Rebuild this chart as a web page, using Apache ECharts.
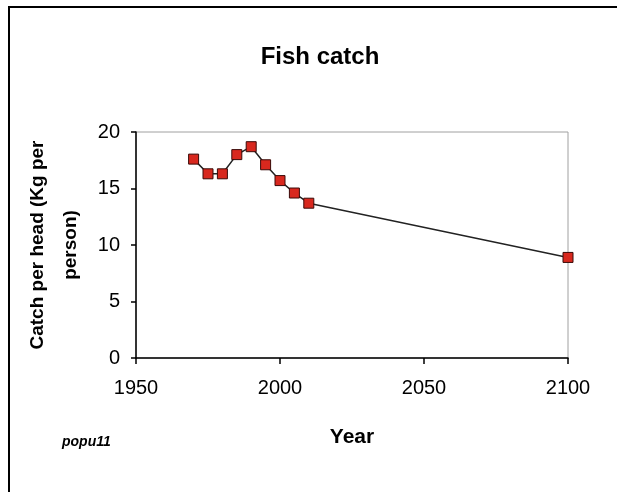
<!DOCTYPE html>
<html>
<head>
<meta charset="utf-8">
<script src="https://cdn.jsdelivr.net/npm/echarts@6/dist/echarts.min.js"></script>
<style>
html,body{margin:0;padding:0;background:#fff;}
#chart{width:617px;height:492px;}
</style>
</head>
<body>
<div id="chart"></div>
<script>
const titleText = 'Fish catch';
const xAxisName = 'Year';
const yAxisName = 'Catch per head (Kg per\nperson)';
const footnote = 'popu11';
const years = [1970, 1975, 1980, 1985, 1990, 1995, 2000, 2005, 2010, 2100];
const catchPerHead = [17.6, 16.3, 16.3, 18.0, 18.7, 17.1, 15.7, 14.6, 13.7, 8.9];

const chart = echarts.init(document.getElementById('chart'), null, {renderer: 'canvas'});
const font = 'Liberation Sans, Arial, sans-serif';
chart.setOption({
  animation: false,
  backgroundColor: '#ffffff',
  title: {
    text: titleText,
    left: 315, top: 40, textAlign: 'center',
    textStyle: {fontFamily: font, fontSize: 24, fontWeight: 'bold', color: '#000'}
  },
  grid: {
    left: 136, right: 49, top: 132, bottom: 134,
    show: true, borderColor: '#a0a0a0', borderWidth: 1, backgroundColor: '#fff'
  },
  xAxis: {
    type: 'value', min: 1950, max: 2100, interval: 50,
    name: xAxisName, nameLocation: 'middle', nameGap: 69,
    nameTextStyle: {fontFamily: font, fontSize: 21, fontWeight: 'bold', color: '#000'},
    axisLine: {show: true, onZero: false, lineStyle: {color: '#000', width: 1.5}},
    axisTick: {show: true, length: 6, lineStyle: {color: '#000', width: 1.5}},
    axisLabel: {fontFamily: font, fontSize: 20, color: '#000', margin: 20, formatter: v => String(v)},
    splitLine: {show: false}
  },
  yAxis: {
    type: 'value', min: 0, max: 20, interval: 5,
    name: yAxisName, nameLocation: 'middle', nameGap: 48,
    nameTextStyle: {fontFamily: font, fontSize: 19, fontWeight: 'bold', color: '#000', lineHeight: 33},
    axisLine: {show: true, lineStyle: {color: '#000', width: 1.5}},
    axisTick: {show: true, length: 5, lineStyle: {color: '#000', width: 1.5}},
    axisLabel: {fontFamily: font, fontSize: 20, color: '#000', margin: 16},
    splitLine: {show: false}
  },
  graphic: [
    {type: 'line', shape: {x1: 9, y1: 7, x2: 9, y2: 492}, style: {stroke: '#000', lineWidth: 2}},
    {type: 'line', shape: {x1: 8, y1: 7, x2: 617, y2: 7}, style: {stroke: '#000', lineWidth: 2}},
    {type: 'text', left: 62, top: 435,
     style: {text: footnote, fontFamily: font, fontSize: 14, fontStyle: 'italic', fontWeight: 'bold', fill: '#000'}}
  ],
  series: [{
    type: 'line',
    data: years.map((y, i) => [y, catchPerHead[i]]),
    symbol: 'rect', symbolSize: 10,
    lineStyle: {color: '#222', width: 1.5},
    itemStyle: {color: '#d8281e', borderColor: '#3a0a08', borderWidth: 1}
  }]
});
</script>
</body>
</html>
